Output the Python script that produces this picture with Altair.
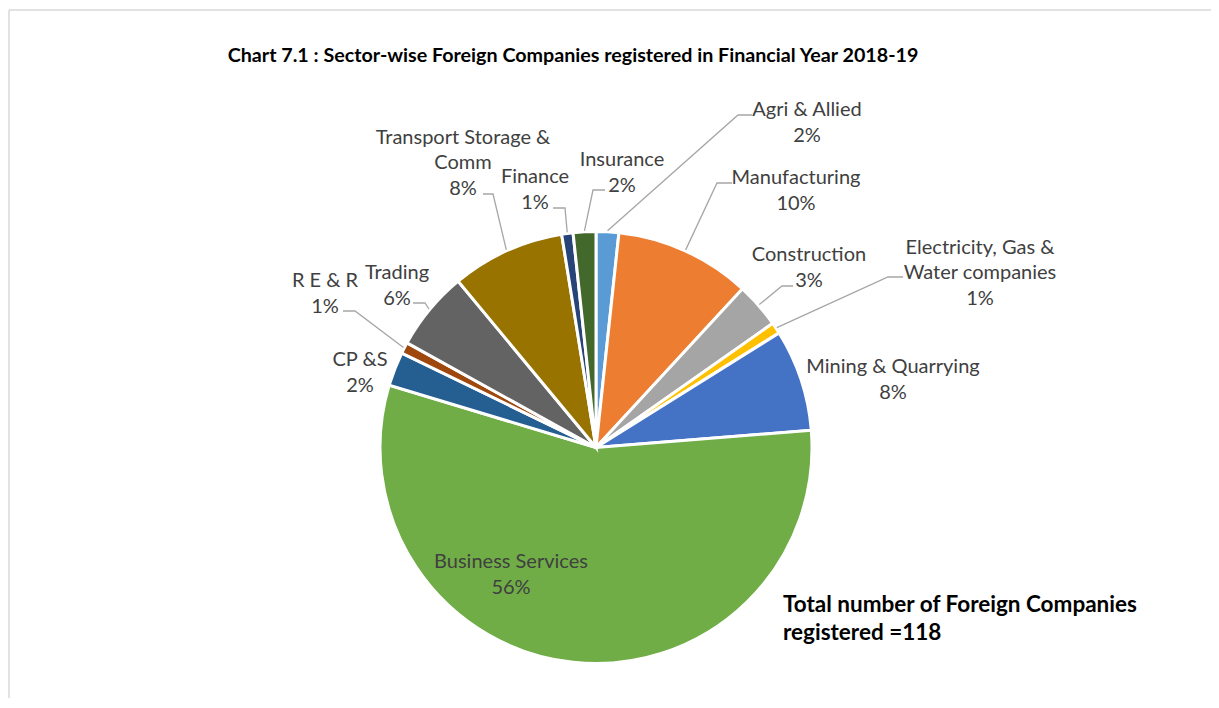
import math
import altair as alt
import pandas as pd

# ---------------- data ----------------
sectors = [
    "Agri & Allied", "Manufacturing", "Construction",
    "Electricity, Gas & Water companies", "Mining & Quarrying",
    "Business Services", "CP &S", "R E & R", "Trading",
    "Transport Storage & Comm", "Finance", "Insurance",
]
counts = [2, 12, 4, 1, 9, 66, 3, 1, 7, 10, 1, 2]
pct_labels = ["2%", "10%", "3%", "1%", "8%", "56%", "2%", "1%", "6%", "8%", "1%", "2%"]
label_names = [
    "Agri & Allied", "Manufacturing", "Construction",
    "Electricity, Gas &\nWater companies", "Mining & Quarrying",
    "Business Services", "CP &S", "R E & R", "Trading",
    "Transport Storage &\nComm", "Finance", "Insurance",
]
colors = ["#5B9BD5", "#ED7D31", "#A5A5A5", "#FFC000", "#4472C4", "#70AD47",
          "#255E91", "#9E480E", "#636363", "#997300", "#264478", "#43682B"]
title_text = "Chart 7.1 : Sector-wise Foreign Companies registered in Financial Year 2018-19"
total_text = "Total number of Foreign Companies\nregistered =118"

# ---------------- layout (page pixels) ----------------
W, H = 1203, 690
OFF = 8
CX, CY, R = 596, 447.5, 216
LH = 25.5

# centre of each label block
label_xy = {
    "Agri & Allied": (807, 123),
    "Manufacturing": (796, 191),
    "Construction": (809, 268),
    "Electricity, Gas & Water companies": (980, 273),
    "Mining & Quarrying": (893, 380),
    "Business Services": (511, 575),
    "CP &S": (360, 373),
    "R E & R": (325, 294),
    "Trading": (397, 286),
    "Transport Storage & Comm": (463, 163),
    "Finance": (535, 190),
    "Insurance": (622, 173),
}
leader_pts = {
    "Agri & Allied": [(738, 115), (752, 115)],
    "Manufacturing": [(717, 183), (732, 183)],
    "Construction": [(782, 286), (793, 286)],
    "Electricity, Gas & Water companies": [(888, 277), (903, 277)],
    "R E & R": [(355, 311), (343, 311)],
    "Trading": [(425, 303), (413, 303)],
    "Transport Storage & Comm": [(493, 194), (483, 194)],
    "Finance": [(565, 208), (553, 208)],
    "Insurance": [(593, 190), (605, 190)],
}

total = sum(counts)
pie_df = pd.DataFrame({"sector": sectors, "count": counts, "idx": range(len(sectors))})

lab_rows = []
for s, nm, p in zip(sectors, label_names, pct_labels):
    x, y = label_xy[s]
    txt = nm + "\n" + p
    n = txt.count("\n") + 1
    lab_rows.append({"sector": s, "text": txt, "lx": x, "ly": y - (n - 1) * LH / 2})
lab_df = pd.DataFrame(lab_rows)

lead_rows = []
cum = 0
for s, c in zip(sectors, counts):
    mid = (cum + c / 2) / total * 2 * math.pi
    cum += c
    if s not in leader_pts:
        continue
    sx = CX + (R + 1) * math.sin(mid)
    sy = CY - (R + 1) * math.cos(mid)
    pts = [(sx, sy)] + leader_pts[s]
    for k, (px, py) in enumerate(pts):
        lead_rows.append({"sector": s, "k": k, "px": px, "py": py})
lead_df = pd.DataFrame(lead_rows)

xs = alt.Scale(domain=[OFF, OFF + W], nice=False, zero=False)
ys = alt.Scale(domain=[OFF, OFF + H], nice=False, zero=False, reverse=True)

pie = alt.Chart(pie_df).mark_arc(outerRadius=R, stroke="white", strokeWidth=3).encode(
    theta=alt.Theta("count:Q", stack=True),
    color=alt.Color("sector:N", scale=alt.Scale(domain=sectors, range=colors), legend=None),
    order=alt.Order("idx:Q"),
    x=alt.value(CX - OFF),
    y=alt.value(CY - OFF),
)

leaders = alt.Chart(lead_df).mark_line(color="#A6A6A6", strokeWidth=1.3).encode(
    x=alt.X("px:Q", scale=xs, axis=None),
    y=alt.Y("py:Q", scale=ys, axis=None),
    detail="sector:N",
    order="k:Q",
)

labels = alt.Chart(lab_df).mark_text(
    align="center", baseline="middle", lineBreak="\n", font="Lato",
    fontSize=20, lineHeight=LH, color="#404040",
).encode(
    x=alt.X("lx:Q", scale=xs, axis=None),
    y=alt.Y("ly:Q", scale=ys, axis=None),
    text="text:N",
)

title = alt.Chart(pd.DataFrame({"t": [title_text], "x": [573], "y": [56]})).mark_text(
    align="center", baseline="middle", font="Lato", fontWeight="bold", fontSize=19.7, color="#000000",
).encode(
    x=alt.X("x:Q", scale=xs, axis=None),
    y=alt.Y("y:Q", scale=ys, axis=None),
    text="t:N",
)

tot = alt.Chart(pd.DataFrame({"t": [total_text], "x": [783], "y": [605]})).mark_text(
    align="left", baseline="middle", lineBreak="\n", font="Lato", fontWeight="bold",
    fontSize=22.5, lineHeight=28, color="#000000",
).encode(
    x=alt.X("x:Q", scale=xs, axis=None),
    y=alt.Y("y:Q", scale=ys, axis=None),
    text="t:N",
)

frame = alt.Chart(pd.DataFrame({
    "x": [9, 9], "y": [10, 10], "x2": [1219, 9], "y2": [10, 708],
})).mark_rule(color="#D9D9D9", strokeWidth=1.5).encode(
    x=alt.X("x:Q", scale=xs, axis=None),
    y=alt.Y("y:Q", scale=ys, axis=None),
    x2="x2:Q",
    y2="y2:Q",
)

chart = alt.layer(frame, pie, leaders, labels, title, tot).properties(
    width=W, height=H, padding=0, autosize=alt.AutoSizeParams(type="none"),
).configure_view(stroke=None)

chart.save("out.html", embed_options={"renderer": "svg", "actions": False})
